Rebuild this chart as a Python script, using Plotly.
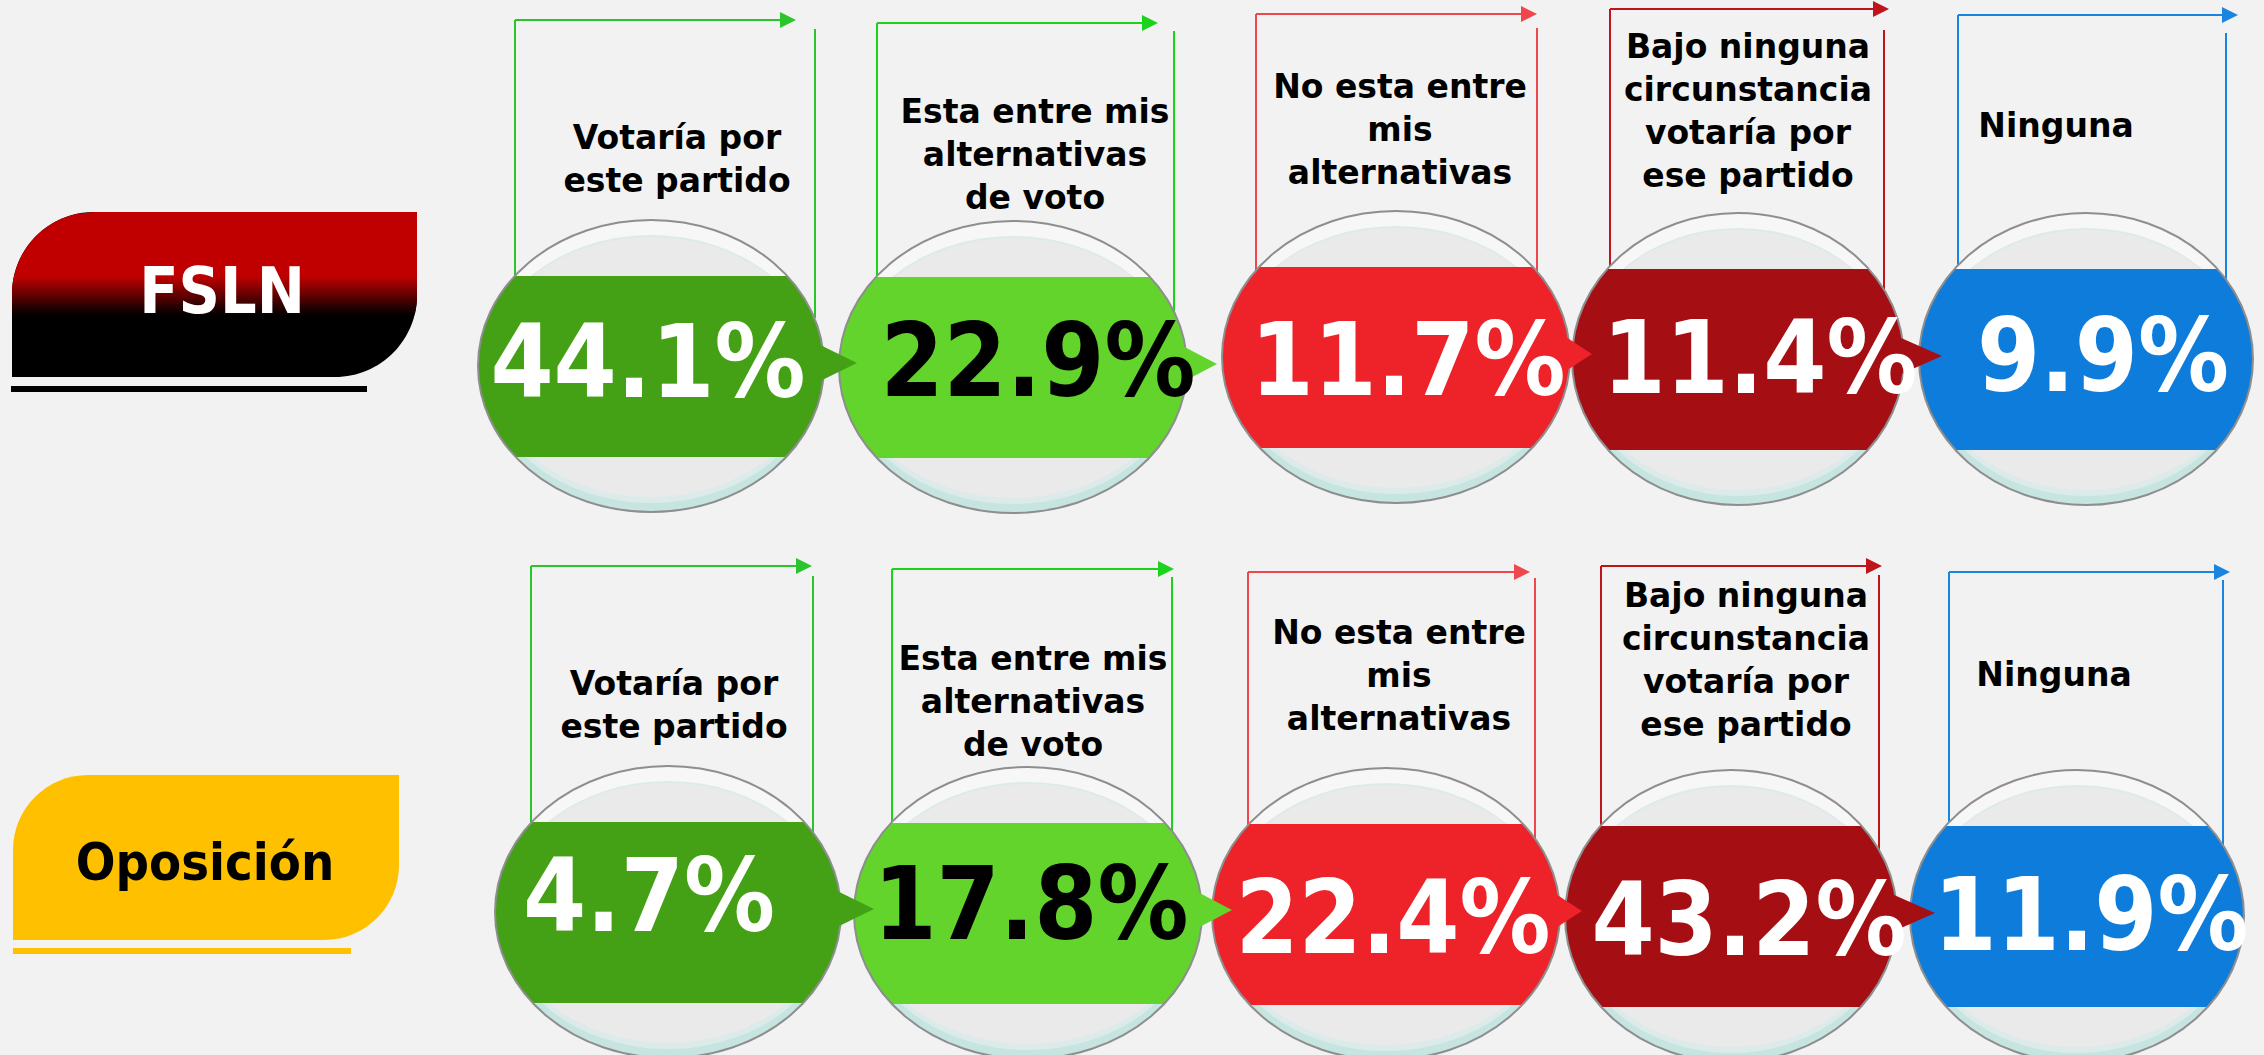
import numpy as np
import plotly.graph_objects as go

# ---------------- data ----------------
groups = ["FSLN", "Oposición"]
categories = [
    "Votaría por<br>este partido",
    "Esta entre mis<br>alternativas<br>de voto",
    "No esta entre<br>mis<br>alternativas",
    "Bajo ninguna<br>circunstancia<br>votaría por<br>ese partido",
    "Ninguna",
]
fsln_values = [44.1, 22.9, 11.7, 11.4, 9.9]
oposicion_values = [4.7, 17.8, 22.4, 43.2, 11.9]

# ---------------- layout geometry / styles ----------------
W, H = 2264, 1055
BG = "#F2F2F2"
circle_cx = [[651, 1013, 1396, 1738, 2086], [668, 1028, 1386, 1731, 2077]]
circle_cy = [[366, 367, 357, 359, 359], [912, 913, 914, 916, 916]]
circle_rx = [173, 174, 174, 166, 167]
RY = 146
BAND_T, BAND_B = 90, 91
arrow_len = [33, 30, 22, 38]

pct_xy = [[(648, 372), (1038, 371), (1408, 370), (1760, 368), (2103, 366)],
          [(649, 906), (1031, 914), (1393, 928), (1749, 930), (2091, 925)]]
label_xy = [[(677, 162), (1035, 158), (1400, 133), (1748, 114), (2056, 129)],
            [(674, 708), (1033, 705), (1399, 679), (1746, 663), (2054, 678)]]
# bracket: left x, top y, arrow tip x, right x, right line start y
brackets = [
    [(515, 20, 796, 815, 29), (877, 23, 1158, 1174, 31), (1256, 14, 1537, 1537, 28),
     (1610, 9, 1889, 1884, 30), (1958, 15, 2238, 2226, 33)],
    [(531, 566, 812, 813, 576), (892, 569, 1174, 1172, 577), (1248, 572, 1530, 1535, 578),
     (1601, 566, 1882, 1879, 575), (1949, 572, 2230, 2223, 580)],
]
band_colors = ["#44A116", "#63D42B", "#EE2229", "#A50E13", "#0E7CDA"]
bracket_colors = ["#2CC42C", "#1CD21C", "#F0474C", "#C0141C", "#1A85E0"]
pct_colors = ["white", "black", "white", "white", "white"]

LABEL_FONT = "DejaVu Sans, Verdana, sans-serif"
PCT_FONT = "DejaVu Sans Condensed, DejaVu Sans, sans-serif"

shapes = []


def poly_path(pts):
    return "M " + " L ".join(f"{x:.2f},{y:.2f}" for x, y in pts) + " Z"


def add_poly(pts, color, line_color=None, lw=0):
    shapes.append(dict(type="path", path=poly_path(pts), xref="x", yref="y",
                       fillcolor=color, line=dict(width=lw, color=line_color or color),
                       layer="below"))


def add_ellipse(cx, cy, rx, ry, fill=None, line_color=None, lw=0):
    d = dict(type="circle", xref="x", yref="y", x0=cx - rx, x1=cx + rx,
             y0=cy - ry, y1=cy + ry, layer="below",
             line=dict(width=lw, color=line_color or "rgba(0,0,0,0)"))
    if fill:
        d["fillcolor"] = fill
    shapes.append(d)


def band_pts(cx, cy, rx, ry, t, b, n=40):
    ys = np.linspace(cy - t, cy + b, n)
    dx = rx * np.sqrt(np.clip(1 - ((ys - cy) / ry) ** 2, 0, 1))
    right = list(zip(cx + dx, ys))
    left = list(zip(cx - dx, ys))[::-1]
    return right + left


for row in range(2):
    # brackets
    for i, (lx, ty, tip, rx_, rs) in enumerate(brackets[row]):
        c = bracket_colors[i]
        cy = circle_cy[row][i]
        shapes.append(dict(type="line", xref="x", yref="y", x0=lx, y0=ty, x1=tip - 14, y1=ty,
                           line=dict(color=c, width=2), layer="below"))
        shapes.append(dict(type="line", xref="x", yref="y", x0=lx, y0=ty, x1=lx, y1=cy,
                           line=dict(color=c, width=2), layer="below"))
        shapes.append(dict(type="line", xref="x", yref="y", x0=rx_, y0=rs, x1=rx_, y1=cy - 48,
                           line=dict(color=c, width=2), layer="below"))
        add_poly([(tip - 16, ty - 8), (tip, ty), (tip - 16, ty + 8)], c)
    # circles
    for i in range(5):
        cx, cy, rx = circle_cx[row][i], circle_cy[row][i], circle_rx[i]
        add_ellipse(cx, cy, rx, RY, fill="#F7F7F7")
        add_ellipse(cx, cy + 8, rx - 3, RY - 8, fill="#C6E4E0")
        add_ellipse(cx, cy + 3, rx - 6, RY - 12, fill="#DCEBEA")
        add_ellipse(cx, cy + 1, rx - 8, RY - 16, fill="#EAEAEA")
        add_poly(band_pts(cx, cy, rx, RY, BAND_T, BAND_B), band_colors[i])
        add_ellipse(cx, cy, rx, RY, line_color="#8E8E8E", lw=2)
    # connectors
    for i in range(4):
        cx, cy, rx = circle_cx[row][i], circle_cy[row][i], circle_rx[i]
        ay = cy - 3
        x_edge = cx + rx
        add_poly([(x_edge - 12, ay - 22), (x_edge + arrow_len[i], ay), (x_edge - 12, ay + 22)],
                 band_colors[i])


# ---------------- badges ----------------
K = 0.5523


def badge_path(x0, y0, x1, y1, r):
    return (f"M {x0},{y0 + r} C {x0},{y0 + r - K * r} {x0 + r - K * r},{y0} {x0 + r},{y0} "
            f"L {x1},{y0} L {x1},{y1 - r} C {x1},{y1 - r + K * r} {x1 - r + K * r},{y1} {x1 - r},{y1} "
            f"L {x0},{y1} Z")


# FSLN badge with red-to-black gradient
fx0, fy0, fx1, fy1, fr = 12, 212, 417, 377, 82
shapes.append(dict(type="path", path=badge_path(fx0, fy0, fx1, fy1, fr), xref="x", yref="y",
                   fillcolor="#000000", line=dict(width=0), layer="below"))


def fs_xl(y):
    ccy = fy0 + fr
    if y < ccy:
        return fx0 + fr - np.sqrt(max(fr ** 2 - (ccy - y) ** 2, 0))
    return fx0


def fs_xr(y):
    ccy = fy1 - fr
    if y > ccy:
        return fx1 - fr + np.sqrt(max(fr ** 2 - (y - ccy) ** 2, 0))
    return fx1


g0, g1 = 276, 314
red_pts = [(fx0, g0)] + [(fs_xl(y), y) for y in np.linspace(min(g0, fy0 + fr), fy0, 40)]
red_pts += [(fx1, fy0), (fx1, g0 + 1)]
add_poly(red_pts, "#C00000")
for y in range(g0, g1, 2):
    t = (y - g0) / (g1 - g0)
    col = f"rgb({int(192 * (1 - t))},0,0)"
    ya, yb = y, y + 3
    add_poly([(fs_xl(ya), ya), (fs_xr(ya), ya), (fs_xr(yb), yb), (fs_xl(yb), yb)], col)
shapes.append(dict(type="rect", xref="x", yref="y", x0=11, x1=367, y0=386, y1=392,
                   fillcolor="#000000", line=dict(width=0), layer="below"))

# Oposición badge
shapes.append(dict(type="path", path=badge_path(13, 775, 399, 940, 75), xref="x", yref="y",
                   fillcolor="#FFC000", line=dict(width=0), layer="below"))
shapes.append(dict(type="rect", xref="x", yref="y", x0=13, x1=351, y0=948, y1=954,
                   fillcolor="#FFC000", line=dict(width=0), layer="below"))

# ---------------- text traces ----------------
fig = go.Figure()
all_values = [fsln_values, oposicion_values]
for row in range(2):
    fig.add_trace(go.Scatter(
        x=[p[0] for p in label_xy[row]], y=[p[1] for p in label_xy[row]],
        mode="text", text=categories, textposition="middle center",
        textfont=dict(family=LABEL_FONT, size=33, color="black", weight="bold"),
        hoverinfo="skip", showlegend=False))
    fig.add_trace(go.Scatter(
        x=[p[0] for p in pct_xy[row]], y=[p[1] for p in pct_xy[row]],
        mode="text", text=[f"{v:.1f}%" for v in all_values[row]], textposition="middle center",
        textfont=dict(family=PCT_FONT, size=101, color=pct_colors, weight="bold"),
        hoverinfo="skip", showlegend=False))

fig.add_trace(go.Scatter(
    x=[222, 205], y=[297, 867], mode="text", text=groups, textposition="middle center",
    textfont=dict(family=PCT_FONT, size=[64, 52], color=["white", "black"], weight="bold"),
    hoverinfo="skip", showlegend=False))

fig.update_layout(
    width=W, height=H, autosize=False,
    margin=dict(l=0, r=0, t=0, b=0, pad=0),
    paper_bgcolor=BG, plot_bgcolor=BG,
    shapes=shapes,
    xaxis=dict(range=[0, W], visible=False, fixedrange=True),
    yaxis=dict(range=[H, 0], visible=False, fixedrange=True),
    showlegend=False,
)

fig.write_html("out.html", config={"displayModeBar": False},
               post_script="document.body.style.margin='0';document.body.style.overflow='hidden';")
